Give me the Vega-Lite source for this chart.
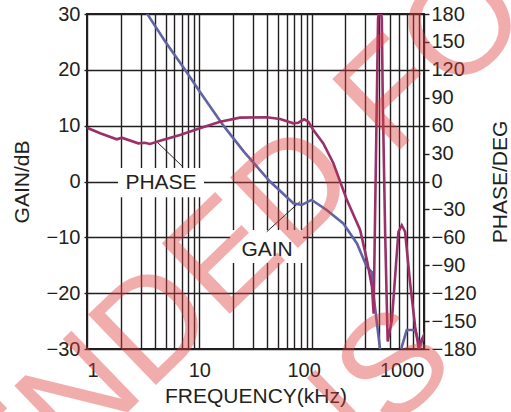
{
  "$schema": "https://vega.github.io/schema/vega-lite/v6.json",
  "width": 337,
  "height": 335,
  "autosize": {"type": "none"},
  "padding": {"left": 87, "top": 14, "right": 87, "bottom": 63},
  "background": "white",
  "config": {
    "font": "Liberation Sans",
    "view": {"stroke": "#231f20", "strokeWidth": 2},
    "axis": {
      "labelFont": "Liberation Sans",
      "titleFont": "Liberation Sans",
      "labelColor": "#231f20",
      "titleColor": "#231f20",
      "labelFontSize": 20,
      "titleFontSize": 21,
      "titleFontWeight": "normal",
      "domain": false,
      "gridColor": "#231f20",
      "gridWidth": 1.4,
      "gridOpacity": 1,
      "tickColor": "#231f20",
      "tickWidth": 1.4
    }
  },
  "datasets": {
    "gain": [
      {"f": 3.3, "g": 31},
      {"f": 3.44, "g": 30},
      {"f": 5, "g": 25},
      {"f": 7.46, "g": 20},
      {"f": 10, "g": 16.2},
      {"f": 16.4, "g": 10},
      {"f": 25, "g": 5.3},
      {"f": 42.6, "g": 0},
      {"f": 68.7, "g": -3.9},
      {"f": 81.6, "g": -4.2},
      {"f": 100, "g": -3.3},
      {"f": 136, "g": -5.1},
      {"f": 191, "g": -7.5},
      {"f": 253, "g": -11.1},
      {"f": 310, "g": -15.3},
      {"f": 343, "g": -16.2},
      {"f": 354, "g": -20},
      {"f": 407, "g": -30.2},
      {"f": 450, "g": -33},
      {"f": 600, "g": -33},
      {"f": 634, "g": -29.6},
      {"f": 702, "g": -26.6},
      {"f": 834, "g": -26.6},
      {"f": 923, "g": -29.6},
      {"f": 1023, "g": -26.9}
    ],
    "phase": [
      {"f": 1, "p": 57.8},
      {"f": 1.31, "p": 51.8},
      {"f": 1.84, "p": 45.3},
      {"f": 2.04, "p": 47.1},
      {"f": 2.86, "p": 41},
      {"f": 3.28, "p": 41.7},
      {"f": 3.64, "p": 40.3},
      {"f": 4.47, "p": 43.9},
      {"f": 6.73, "p": 50},
      {"f": 10.1, "p": 57.2},
      {"f": 15.3, "p": 64.3},
      {"f": 23, "p": 68.6},
      {"f": 39.8, "p": 69},
      {"f": 52.3, "p": 67.2},
      {"f": 68.7, "p": 62.5},
      {"f": 76.1, "p": 63.2},
      {"f": 85.6, "p": 66.8},
      {"f": 93.5, "p": 64.3},
      {"f": 103.5, "p": 55.3},
      {"f": 127, "p": 41},
      {"f": 156, "p": 19.6},
      {"f": 191, "p": -9.1},
      {"f": 206, "p": -20},
      {"f": 270, "p": -52},
      {"f": 310, "p": -84},
      {"f": 344, "p": -113},
      {"f": 356, "p": -142},
      {"f": 390, "p": 175},
      {"f": 398, "p": 183},
      {"f": 413, "p": 183},
      {"f": 421, "p": 175},
      {"f": 429.5, "p": 87.6},
      {"f": 451, "p": -55},
      {"f": 475, "p": -172},
      {"f": 518, "p": -149},
      {"f": 592, "p": -54},
      {"f": 634, "p": -47},
      {"f": 679, "p": -54},
      {"f": 752, "p": -109},
      {"f": 834, "p": -156},
      {"f": 892, "p": -177.5},
      {"f": 955, "p": -170},
      {"f": 1022, "p": -163}
    ],
    "boxes": [
      {"x1": 1.89, "x2": 11.0, "y1": 2.4, "y2": -2.8},
      {"x1": 18.8, "x2": 83.8, "y1": -8.7, "y2": -14.6}
    ],
    "leaders": [
      {"x1": 4.03, "y1": 7.43, "x2": 7.11, "y2": 2.65},
      {"x1": 39.8, "y1": -9.0, "x2": 78.8, "y2": -3.6}
    ],
    "labels": [
      {"t": "PHASE", "lx": 4.56, "ly": -0.3},
      {"t": "GAIN", "lx": 40.1, "ly": -12.3}
    ],
    "watermark": [
      {"w": "NOT RECOMMENDED FOR", "f": 0.0638, "g": -71.6},
      {"w": "NEW DESIGNS", "f": 1.21, "g": -95.9}
    ]
  },
  "layer": [
    {
      "data": {"name": "boxes"},
      "mark": {"type": "rect", "color": "white"},
      "encoding": {
        "x": {
          "field": "x1", "type": "quantitative", "title": "FREQUENCY(kHz)",
          "scale": {"type": "log", "domain": [1, 1000]},
          "axis": {"values": [1, 2, 3, 4, 5, 6, 7, 8, 9, 10, 20, 30, 40, 50, 60, 70, 80, 90, 100, 200, 300, 400, 500, 600, 700, 800, 900, 1000], "grid": true, "ticks": false, "labelPadding": 11, "labelOverlap": false, "labelFlush": true, "labelOffset": {"condition": {"test": "datum.value == 100", "value": -8}, "value": 0}, "labelExpr": "datum.value == 1 ? '1' : datum.value == 10 ? '10' : datum.value == 100 ? '100' : datum.value == 1000 ? '1000' : ''", "title": "FREQUENCY(kHz)", "titlePadding": 5}
        },
        "x2": {"field": "x2"},
        "y": {
          "field": "y1",
          "type": "quantitative",
          "scale": {"domain": [-30, 30]},
          "axis": {
            "orient": "left",
            "values": [-30, -20, -10, 0, 10, 20, 30],
            "grid": true,
            "tickSize": 3,
            "labelPadding": 4,
            "title": "GAIN/dB",
            "titlePadding": 14
          }
        },
        "y2": {"field": "y2"}
      }
    },
    {
      "data": {"name": "leaders"},
      "mark": {"type": "rule", "color": "#231f20", "strokeWidth": 1},
      "encoding": {
        "x": {
          "field": "x1", "type": "quantitative", "title": "FREQUENCY(kHz)",
          "scale": {"type": "log", "domain": [1, 1000]},
          "axis": {"values": [1, 2, 3, 4, 5, 6, 7, 8, 9, 10, 20, 30, 40, 50, 60, 70, 80, 90, 100, 200, 300, 400, 500, 600, 700, 800, 900, 1000], "grid": true, "ticks": false, "labelPadding": 11, "labelOverlap": false, "labelFlush": true, "labelOffset": {"condition": {"test": "datum.value == 100", "value": -8}, "value": 0}, "labelExpr": "datum.value == 1 ? '1' : datum.value == 10 ? '10' : datum.value == 100 ? '100' : datum.value == 1000 ? '1000' : ''", "title": "FREQUENCY(kHz)", "titlePadding": 5}
        },
        "x2": {"field": "x2"},
        "y": {"field": "y1", "type": "quantitative", "scale": {"domain": [-30, 30]}, "axis": null},
        "y2": {"field": "y2"}
      }
    },
    {
      "data": {"name": "labels"},
      "mark": {"type": "text", "fontSize": 21, "color": "#231f20", "font": "Liberation Sans", "baseline": "middle"},
      "encoding": {
        "x": {
          "field": "lx", "type": "quantitative", "title": "FREQUENCY(kHz)",
          "scale": {"type": "log", "domain": [1, 1000]},
          "axis": {"values": [1, 2, 3, 4, 5, 6, 7, 8, 9, 10, 20, 30, 40, 50, 60, 70, 80, 90, 100, 200, 300, 400, 500, 600, 700, 800, 900, 1000], "grid": true, "ticks": false, "labelPadding": 11, "labelOverlap": false, "labelFlush": true, "labelOffset": {"condition": {"test": "datum.value == 100", "value": -8}, "value": 0}, "labelExpr": "datum.value == 1 ? '1' : datum.value == 10 ? '10' : datum.value == 100 ? '100' : datum.value == 1000 ? '1000' : ''", "title": "FREQUENCY(kHz)", "titlePadding": 5}
        },
        "y": {"field": "ly", "type": "quantitative", "scale": {"domain": [-30, 30]}, "axis": null},
        "text": {"field": "t"}
      }
    },
    {
      "data": {"name": "gain"},
      "mark": {"type": "line", "color": "#6064a6", "strokeWidth": 2.6, "clip": true},
      "encoding": {
        "x": {
          "field": "f", "type": "quantitative", "title": "FREQUENCY(kHz)",
          "scale": {"type": "log", "domain": [1, 1000]},
          "axis": {"values": [1, 2, 3, 4, 5, 6, 7, 8, 9, 10, 20, 30, 40, 50, 60, 70, 80, 90, 100, 200, 300, 400, 500, 600, 700, 800, 900, 1000], "grid": true, "ticks": false, "labelPadding": 11, "labelOverlap": false, "labelFlush": true, "labelOffset": {"condition": {"test": "datum.value == 100", "value": -8}, "value": 0}, "labelExpr": "datum.value == 1 ? '1' : datum.value == 10 ? '10' : datum.value == 100 ? '100' : datum.value == 1000 ? '1000' : ''", "title": "FREQUENCY(kHz)", "titlePadding": 5}
        },
        "y": {"field": "g", "type": "quantitative", "scale": {"domain": [-30, 30]}, "axis": null}
      }
    },
    {
      "data": {"name": "phase"},
      "mark": {"type": "line", "color": "#9b3068", "strokeWidth": 2.6, "clip": true},
      "encoding": {
        "x": {
          "field": "f", "type": "quantitative", "title": "FREQUENCY(kHz)",
          "scale": {"type": "log", "domain": [1, 1000]},
          "axis": {"values": [1, 2, 3, 4, 5, 6, 7, 8, 9, 10, 20, 30, 40, 50, 60, 70, 80, 90, 100, 200, 300, 400, 500, 600, 700, 800, 900, 1000], "grid": true, "ticks": false, "labelPadding": 11, "labelOverlap": false, "labelFlush": true, "labelOffset": {"condition": {"test": "datum.value == 100", "value": -8}, "value": 0}, "labelExpr": "datum.value == 1 ? '1' : datum.value == 10 ? '10' : datum.value == 100 ? '100' : datum.value == 1000 ? '1000' : ''", "title": "FREQUENCY(kHz)", "titlePadding": 5}
        },
        "y": {
          "field": "p",
          "type": "quantitative",
          "scale": {"domain": [-180, 180]},
          "axis": {
            "orient": "right",
            "values": [-180, -150, -120, -90, -60, -30, 0, 30, 60, 90, 120, 150, 180],
            "grid": false,
            "tickSize": 5,
            "labelPadding": 2,
            "title": "PHASE/DEG",
            "titleAngle": 270,
            "titlePadding": 34
          }
        }
      }
    },
    {
      "data": {"name": "watermark"},
      "mark": {"type": "text", "fontSize": 142, "font": "Liberation Sans", "angle": -44, "align": "center", "baseline": "alphabetic", "color": "#e03c3c", "opacity": 0.42},
      "encoding": {
        "x": {
          "field": "f", "type": "quantitative", "title": "FREQUENCY(kHz)",
          "scale": {"type": "log", "domain": [1, 1000]},
          "axis": {"values": [1, 2, 3, 4, 5, 6, 7, 8, 9, 10, 20, 30, 40, 50, 60, 70, 80, 90, 100, 200, 300, 400, 500, 600, 700, 800, 900, 1000], "grid": true, "ticks": false, "labelPadding": 11, "labelOverlap": false, "labelFlush": true, "labelOffset": {"condition": {"test": "datum.value == 100", "value": -8}, "value": 0}, "labelExpr": "datum.value == 1 ? '1' : datum.value == 10 ? '10' : datum.value == 100 ? '100' : datum.value == 1000 ? '1000' : ''", "title": "FREQUENCY(kHz)", "titlePadding": 5}
        },
        "y": {"field": "g", "type": "quantitative", "scale": {"domain": [-30, 30]}, "axis": null},
        "text": {"field": "w"}
      }
    }
  ],
  "resolve": {"scale": {"y": "independent"}}
}
